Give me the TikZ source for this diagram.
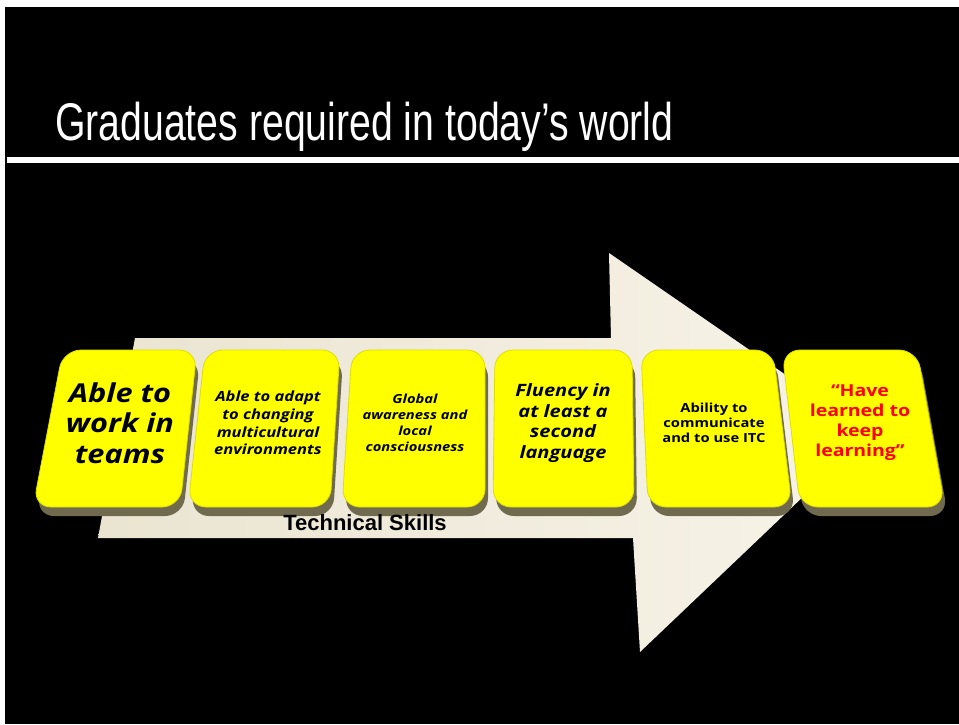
\documentclass[tikz,border=0pt]{standalone}
\usepackage{fontspec}
\usepackage{graphicx}
\definecolor{ArrowCream}{RGB}{234,228,209}
\definecolor{ArrowLight}{RGB}{247,243,232}
\definecolor{CardYellow}{RGB}{255,255,0}
\definecolor{CardEdge}{RGB}{222,222,0}
\definecolor{CardShadow}{RGB}{112,106,78}
\definecolor{QuoteRed}{RGB}{255,0,0}
\newfontfamily\titlefont{Liberation Sans}
\newfontfamily\cardfont[FakeStretch=1.18]{Open Sans}
\newfontfamily\labelfont{Liberation Sans}

\begin{document}
\begin{tikzpicture}[x=1pt, y=-1pt,
	card/.style={fill=CardYellow, draw=CardEdge, line width=0.8pt, rounded corners=18pt},
	cardshadow/.style={fill=CardShadow, rounded corners=18pt},
	cardtext/.style={align=center, inner sep=0pt, text=black}]
	\useasboundingbox (0,0) rectangle (959,724);
	\fill[white] (0,0) rectangle (959,724);
	\fill[black] (5,7) rectangle (959,724);
	% titulo y raya
	\node[anchor=base west, text=white, inner sep=0pt, font=\titlefont\fontsize{53}{60}\selectfont]
		(title) at (55,140) {\scalebox{0.74}[1]{Graduates required in today’s world}};
	\fill[white] (7,157) rectangle (959,163);
	% flecha de fondo
	\shade[left color=ArrowCream, right color=ArrowLight]
		(135,338) -- (611,338) -- (609,253) -- (870,433) -- (640,652) -- (633,538) -- (98,538) -- cycle;
	% tarjetas: arriba izq, arriba der, abajo der, abajo izq
	\foreach \a/\b/\c/\d in {63/197/180/33, 205/340/330/188, 352/485/485/342,
			495/632/634/493, 641/773/792/648, 782/917/945/800} {
		\fill[cardshadow] (\a+3,359) -- (\b+3,359) -- (\c+3,516) -- (\d+3,516) -- cycle;
		\draw[card] (\a,350) -- (\b,350) -- (\c,507) -- (\d,507) -- cycle;
	}
	\node[cardtext, font=\cardfont\bfseries\itshape\fontsize{26}{30.5}\selectfont]
		(teams) at (120,423) {Able to\\work in\\teams};
	\node[cardtext, font=\cardfont\bfseries\itshape\fontsize{14}{17.7}\selectfont]
		(adapt) at (268,423) {Able to adapt\\to changing\\multicultural\\environments};
	\node[cardtext, font=\cardfont\bfseries\itshape\fontsize{12.5}{16}\selectfont]
		(global) at (415,423) {Global\\awareness and\\local\\consciousness};
	\node[cardtext, font=\cardfont\bfseries\itshape\fontsize{17}{20.5}\selectfont]
		(fluency) at (563,423) {Fluency in\\at least a\\second\\language};
	\node[cardtext, font=\cardfont\bfseries\fontsize{12.5}{15}\selectfont]
		(ability) at (714,423) {Ability to\\communicate\\and to use ITC};
	\node[cardtext, text=QuoteRed, font=\cardfont\bfseries\fontsize{16.5}{20}\selectfont]
		(learning) at (860,423) {“Have\\learned to\\keep\\learning”};
	\node[inner sep=0pt, font=\labelfont\bfseries\fontsize{22}{26}\selectfont]
		(skills) at (365,523) {Technical Skills};
\end{tikzpicture}
\end{document}
